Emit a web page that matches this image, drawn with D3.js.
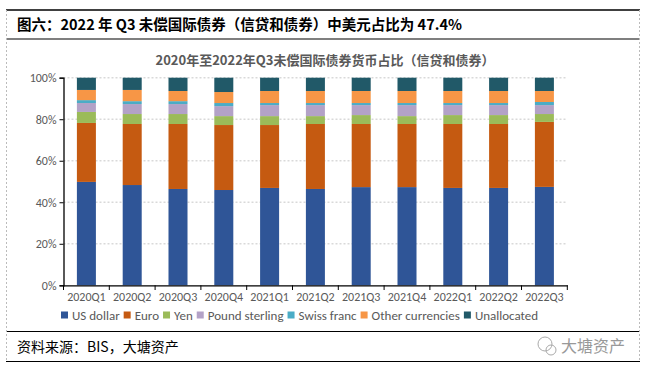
<!DOCTYPE html>
<html><head><meta charset="utf-8">
<script src="https://cdn.jsdelivr.net/npm/d3@7"></script>
<style>
body{margin:0;background:#fff;}
svg{display:block;}
</style></head>
<body>
<svg id="c" width="651" height="371"></svg>
<script>
const categories = ["2020Q1","2020Q2","2020Q3","2020Q4","2021Q1","2021Q2","2021Q3","2021Q4","2022Q1","2022Q2","2022Q3"];
const seriesNames = ["US dollar","Euro","Yen","Pound sterling","Swiss franc","Other currencies","Unallocated"];
const usDollar   = [49.8,48.3,46.4,45.9,46.9,46.4,47.3,47.3,46.9,46.9,47.4];
const euro       = [28.4,29.4,31.3,31.3,30.3,31.3,30.4,30.4,30.8,30.8,31.3];
const yen        = [5.3,4.8,4.8,4.3,4.3,3.8,4.3,3.8,4.3,4.3,3.8];
const pound      = [4.3,4.8,4.8,4.8,5.3,5.3,4.8,5.3,4.8,4.8,4.3];
const swissFranc = [1.4,1.4,1.4,1.5,1.0,1.0,1.0,1.0,1.0,1.0,1.5];
const otherCur   = [4.9,5.4,4.9,5.3,5.8,5.8,5.8,5.8,5.8,5.8,5.3];
const unalloc    = [5.9,5.9,6.4,6.9,6.4,6.4,6.4,6.4,6.4,6.4,6.4];
const yTicks = [0,20,40,60,80,100];
const colors = ["#2F5597","#C55A11","#9BBB59","#B3A2C7","#4BACC6","#F79646","#215968"];

const seriesArrays = [usDollar,euro,yen,pound,swissFranc,otherCur,unalloc];
const rows = categories.map((c,i)=>{const r={cat:c}; seriesNames.forEach((s,j)=>r[s]=seriesArrays[j][i]); return r;});

const svg = d3.select("#c");
const latin = "Calibri, Carlito, Lato, 'Noto Sans CJK SC', sans-serif";

// frame
svg.append("line").attr("x1",6).attr("x2",640).attr("y1",10).attr("y2",10).attr("stroke","#000").attr("stroke-width",1.5);
svg.append("line").attr("x1",6).attr("x2",640).attr("y1",39).attr("y2",39).attr("stroke","#000").attr("stroke-width",1.2);
svg.append("line").attr("x1",6).attr("x2",640).attr("y1",331.5).attr("y2",331.5).attr("stroke","#000").attr("stroke-width",1.2);
svg.append("line").attr("x1",6).attr("x2",640).attr("y1",361.5).attr("y2",361.5).attr("stroke","#000").attr("stroke-width",1.2);
[6.5,639.5].forEach(x=>svg.append("line").attr("x1",x).attr("x2",x).attr("y1",10).attr("y2",361.5).attr("stroke","#bbb").attr("stroke-width",1).attr("stroke-dasharray","2,2"));

svg.append("text").attr("x",17).attr("y",30).attr("font-size",14.5).attr("font-weight","bold")
  .attr("font-family","'Liberation Sans Narrow', 'Noto Sans CJK SC', sans-serif").attr("fill","#000")
  .text("图六：2022 年 Q3 未偿国际债券（信贷和债券）中美元占比为 47.4%");

svg.append("text").attr("x",325).attr("y",65).attr("text-anchor","middle").attr("font-size",13).attr("font-weight","bold")
  .attr("font-family","'Noto Sans CJK SC', sans-serif").attr("fill","#595959")
  .text("2020年至2022年Q3未偿国际债券货币占比（信贷和债券）");

const x = d3.scaleBand().domain(categories).range([63.5,567.3]).paddingInner(0.585).paddingOuter(0.2925);
const y = d3.scaleLinear().domain([0,100]).range([285.3,77.7]);

// gridlines
svg.append("g").selectAll("line").data(yTicks.filter(d=>d>0)).join("line")
  .attr("x1",63.5).attr("x2",567.3).attr("y1",d=>y(d)).attr("y2",d=>y(d))
  .attr("stroke","#d9d9d9").attr("stroke-width",1.5).attr("stroke-dasharray","2,2");

const stack = d3.stack().keys(seriesNames)(rows);
svg.append("g").selectAll("g").data(stack).join("g").attr("fill",(d,i)=>colors[i])
  .selectAll("rect").data(d=>d).join("rect")
  .attr("x",d=>x(d.data.cat)).attr("width",x.bandwidth())
  .attr("y",d=>y(d[1])).attr("height",d=>y(d[0])-y(d[1]));

// y axis
const ya = svg.append("g").attr("transform","translate(63.5,0)")
  .call(d3.axisLeft(y).tickValues(yTicks).tickSize(4).tickPadding(3).tickFormat(d=>d+"%"));
ya.select(".domain").attr("stroke","#000").attr("stroke-width",1.3);
ya.selectAll(".tick line").attr("stroke","#000");
ya.selectAll("text").attr("font-size",12).attr("font-family",latin).attr("fill","#595959");

// x axis
const xa = svg.append("g").attr("transform","translate(0,285.3)")
  .call(d3.axisBottom(x).tickSize(0).tickPadding(7));
xa.select(".domain").attr("stroke","#000").attr("stroke-width",1.3);
xa.selectAll("text").attr("font-size",12).attr("font-family",latin).attr("fill","#595959");
const step = x.step();
svg.append("g").selectAll("line").data(d3.range(categories.length+1)).join("line")
  .attr("x1",i=>63.5+i*step).attr("x2",i=>63.5+i*step).attr("y1",285.3).attr("y2",290)
  .attr("stroke","#000").attr("stroke-width",1);

// legend
const lg = svg.append("g").attr("transform","translate(61,315)");
let lx = 0;
seriesNames.forEach((s,i)=>{
  lg.append("rect").attr("x",lx).attr("y",-3.5).attr("width",7).attr("height",7).attr("fill",colors[i]);
  const t = lg.append("text").attr("x",lx+11).attr("y",4.5).attr("font-size",13).attr("font-family",latin).attr("fill","#595959").text(s);
  lx += 11 + t.node().getComputedTextLength() + 4;
});

// source
svg.append("text").attr("x",17).attr("y",352).attr("font-size",14)
  .attr("font-family","'Noto Sans CJK SC', sans-serif").attr("fill","#000").text("资料来源：BIS，大塘资产");

// watermark
const wm = svg.append("g").attr("fill","none").attr("stroke","#aaa").attr("stroke-width",1);
wm.append("circle").attr("cx",545).attr("cy",344).attr("r",7);
wm.append("circle").attr("cx",551).attr("cy",350).attr("r",5);
svg.append("text").attr("x",561).attr("y",352).attr("font-size",16)
  .attr("font-family","'Noto Sans CJK SC', sans-serif").attr("fill","#999").text("大塘资产");
</script>
</body></html>
